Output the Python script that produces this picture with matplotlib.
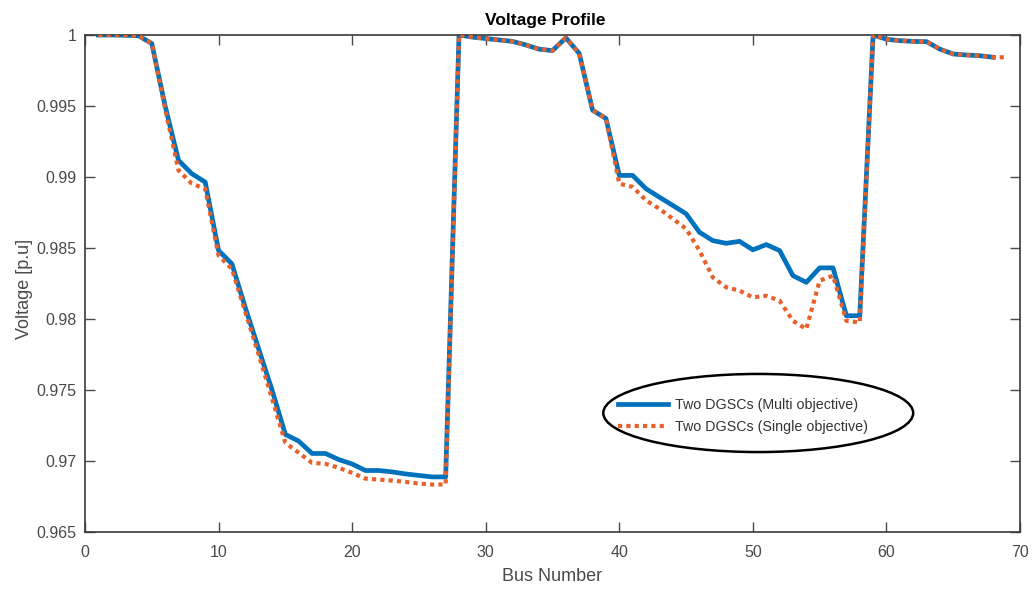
import numpy as np
import matplotlib
matplotlib.use('Agg')
import matplotlib.pyplot as plt
from matplotlib.patches import Ellipse
from matplotlib.ticker import FuncFormatter

plt.rcParams['font.family'] = ['Liberation Sans', 'DejaVu Sans']

# bus voltages [p.u], buses 1..68 (multi) and 1..69 (single)
v_multi = [1.0, 1.0, 0.99998, 0.99995, 0.9994, 0.9950, 0.99117, 0.99023, 0.98964, 0.98482,
           0.98388, 0.9808, 0.9779, 0.9750, 0.97187, 0.9714, 0.97053, 0.97053, 0.9701, 0.96979,
           0.96933, 0.96933, 0.96923, 0.96909, 0.96898, 0.96888, 0.96888, 1.0, 0.99985, 0.99975,
           0.99965, 0.99955, 0.9993, 0.999, 0.9989, 0.9998, 0.9987, 0.9947, 0.99412, 0.99011,
           0.99011, 0.98917, 0.98858, 0.988, 0.98741, 0.98611, 0.98552, 0.98533, 0.98547, 0.98487,
           0.98524, 0.98482, 0.98305, 0.98258, 0.9836, 0.9836, 0.98023, 0.98023, 1.0, 0.9997,
           0.9996, 0.99955, 0.99953, 0.999, 0.99866, 0.99859, 0.99854, 0.99843]

v_single = [1.0, 1.0, 0.99998, 0.99995, 0.9994, 0.9948, 0.99047, 0.98953, 0.98917, 0.98446,
            0.98353, 0.9805, 0.9775, 0.9744, 0.97128, 0.97058, 0.96987, 0.9698, 0.96952, 0.96916,
            0.96876, 0.96869, 0.96862, 0.96853, 0.96841, 0.96834, 0.96835, 1.0, 0.99985, 0.99975,
            0.99965, 0.99955, 0.9993, 0.999, 0.9989, 0.9998, 0.9987, 0.9947, 0.99412, 0.98953,
            0.9893, 0.98835, 0.98776, 0.98706, 0.98635, 0.98482, 0.98293, 0.98223, 0.982, 0.98152,
            0.98164, 0.98129, 0.97987, 0.97929, 0.9827, 0.98305, 0.97987, 0.97976, 1.0, 0.9997,
            0.9996, 0.99955, 0.99953, 0.999, 0.99866, 0.99859, 0.99854, 0.99843, 0.99843]

bus_multi = np.arange(1, len(v_multi) + 1)
bus_single = np.arange(1, len(v_single) + 1)

fig = plt.figure(figsize=(10.34, 5.90), dpi=100)
ax = fig.add_axes([0.0822, 0.0983, 0.9043, 0.8424])

ax.plot(bus_multi, v_multi, color='#0072BD', lw=3.4, solid_joinstyle='round',
        label='Two DGSCs (Multi objective)', zorder=2)
ax.plot(bus_single, v_single, color='#E8612C', lw=3.0, linestyle=(0, (1, 1)),
        label='Two DGSCs (Single objective)', zorder=3)

ax.set_xlim(0, 70)
ax.set_ylim(0.965, 1.0)
ax.set_xticks(np.arange(0, 71, 10))
ax.set_yticks(np.arange(0.965, 1.0001, 0.005))
ax.yaxis.set_major_formatter(FuncFormatter(lambda v, p: '%g' % round(v, 3)))

grey = '#4a4a4a'
ax.tick_params(direction='in', length=7, width=1, top=True, right=True,
               labelsize=11.5, colors=grey)
ax.tick_params(axis='x', pad=9)
ax.tick_params(axis='y', pad=6)
for s in ax.spines.values():
    s.set_color('#3a3a3a')
    s.set_linewidth(1.2)

ax.set_title('Voltage Profile', fontsize=12.5, fontweight='bold', pad=7, x=0.492)
ax.set_xlabel('Bus Number', fontsize=13, color=grey)
ax.set_ylabel('Voltage [p.u]', fontsize=13, color=grey)
ax.xaxis.set_label_coords(0.5, -0.072)
ax.yaxis.set_label_coords(-0.056, 0.49)

leg = ax.legend(loc='center', bbox_to_anchor=(0.7033, 0.233), frameon=False,
                fontsize=10.3, handlelength=3.5, handletextpad=0.5, labelspacing=0.6)
for t in leg.get_texts():
    t.set_color('#333333')

# ellipse around the legend
ax.add_patch(Ellipse((50.4, 0.97338), 23.2, 0.0055, fill=False, edgecolor='black',
                     lw=1.8, zorder=4))

fig.savefig('out.png', dpi=100)
